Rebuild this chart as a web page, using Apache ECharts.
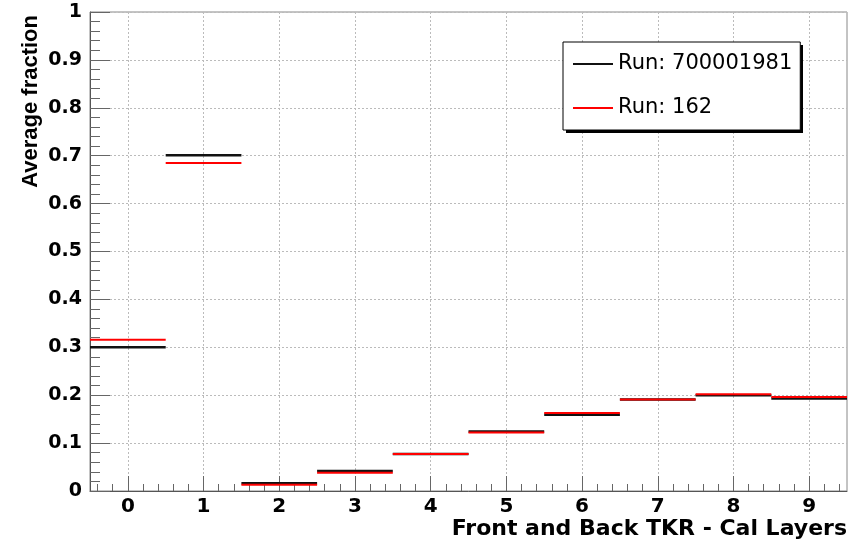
<!DOCTYPE html>
<html>
<head>
<meta charset="utf-8">
<script src="https://cdn.jsdelivr.net/npm/echarts@6/dist/echarts.min.js"></script>
<style>
html,body{margin:0;padding:0;background:#fff;}
#chart{width:861px;height:543px;}
</style>
</head>
<body>
<div id="chart"></div>
<script>
var categories = [0, 1, 2, 3, 4, 5, 6, 7, 8, 9];
var run700001981 = [0.300, 0.701, 0.016, 0.042, 0.077, 0.124, 0.159, 0.191, 0.200, 0.193];
var run162 = [0.316, 0.685, 0.013, 0.038, 0.077, 0.122, 0.163, 0.191, 0.202, 0.196];
var seriesNames = ['Run: 700001981', 'Run: 162'];
var xTitle = 'Front and Back TKR - Cal Layers';
var yTitle = 'Average fraction';

// minor tick positions on x: every 0.2 between bin centres
var xMinor = [];
categories.forEach(function (c) {
  [-0.4, -0.2, 0.2, 0.4].forEach(function (d) { xMinor.push(+(c + d).toFixed(2)); });
});

function toData(vals) {
  return categories.map(function (c, i) { return [c, vals[i]]; });
}
function segRender(width) {
  return function (params, api) {
    var x = api.value(0), y = api.value(1);
    var p1 = api.coord([x - 0.5, y]);
    var p2 = api.coord([x + 0.5, y]);
    return {
      type: 'line',
      shape: { x1: p1[0], y1: p1[1], x2: p2[0], y2: p2[1] },
      style: { stroke: api.visual('color'), lineWidth: width }
    };
  };
}

var chart = echarts.init(document.getElementById('chart'), null, { renderer: 'canvas' });
var bold = 'DejaVu Sans';
chart.setOption({
  animation: false,
  backgroundColor: '#fff',
  grid: { left: 90, right: 14, top: 12, bottom: 52, show: true, borderColor: '#888', borderWidth: 1, containLabel: false, outerBoundsMode: 'none' },
  graphic: [{
    type: 'rect', left: 566, top: 45, z: 1, silent: true,
    shape: { width: 237, height: 88 }, style: { fill: '#000' }
  }],
  legend: {
    orient: 'vertical', left: 563, top: 42, z: 5,
    padding: [10, 8, 10, 10],
    itemWidth: 40, itemHeight: 2, itemGap: 20,
    backgroundColor: '#fff', borderColor: '#000', borderWidth: 1,
    textStyle: { fontFamily: 'DejaVu Sans', fontSize: 21, color: '#000', lineHeight: 24 },
    data: [{ name: seriesNames[0], icon: 'rect' }, { name: seriesNames[1], icon: 'rect' }]
  },
  xAxis: [{
    type: 'value', min: -0.5, max: 9.5,
    name: xTitle, nameLocation: 'end', nameGap: 0,
    nameTextStyle: { fontFamily: bold, fontWeight: 'bold', fontSize: 22, color: '#000', align: 'right', verticalAlign: 'top', padding: [27, 0, 0, 0] },
    axisLine: { show: true, onZero: false, lineStyle: { color: '#555', width: 1 } },
    axisTick: { show: true, inside: true, length: 15, customValues: categories, lineStyle: { color: '#666' } },
    minorTick: { show: false },
    splitLine: { show: true, customValues: categories, lineStyle: { color: '#bbb', type: [2, 2] } },
    axisLabel: {
      fontFamily: bold, fontWeight: 'bold', fontSize: 20, color: '#000', margin: 6,
      customValues: categories,
      formatter: function (v) { return String(Math.round(v)); }
    }
  }, {
    type: 'value', min: -0.5, max: 9.5, position: 'bottom', offset: 0,
    axisLine: { show: false, onZero: false },
    axisTick: { show: true, inside: true, length: 7, customValues: xMinor, lineStyle: { color: '#666' } },
    axisLabel: { show: false },
    splitLine: { show: false }
  }],
  yAxis: {
    type: 'value', min: 0, max: 1, interval: 0.1,
    name: yTitle, nameLocation: 'end', nameRotate: 90, nameGap: -3,
    nameTextStyle: { fontFamily: 'Liberation Sans', fontWeight: 'bold', fontSize: 22, color: '#000', align: 'right', verticalAlign: 'bottom', padding: [0, 0, 48, 0] },
    axisLine: { show: true, onZero: false, lineStyle: { color: '#555', width: 1 } },
    axisTick: { show: true, inside: true, length: 20, lineStyle: { color: '#666', width: 1 } },
    minorTick: { show: true, splitNumber: 5, length: 10, lineStyle: { color: '#666', width: 1 } },
    splitLine: { show: true, lineStyle: { color: '#bbb', type: [2, 2] } },
    axisLabel: {
      fontFamily: bold, fontWeight: 'bold', fontSize: 19, color: '#000', margin: 8,
      formatter: function (v) { return Math.abs(v) < 1e-9 ? '0' : (Math.abs(v - 1) < 1e-9 ? '1' : v.toFixed(1)); }
    }
  },
  series: [
    { name: seriesNames[0], type: 'custom', itemStyle: { color: '#111' }, renderItem: segRender(2.5), data: toData(run700001981), encode: { x: 0, y: 1 }, z: 2 },
    { name: seriesNames[1], type: 'custom', itemStyle: { color: '#ff0000' }, renderItem: segRender(2), data: toData(run162), encode: { x: 0, y: 1 }, z: 3 }
  ]
});
</script>
</body>
</html>
